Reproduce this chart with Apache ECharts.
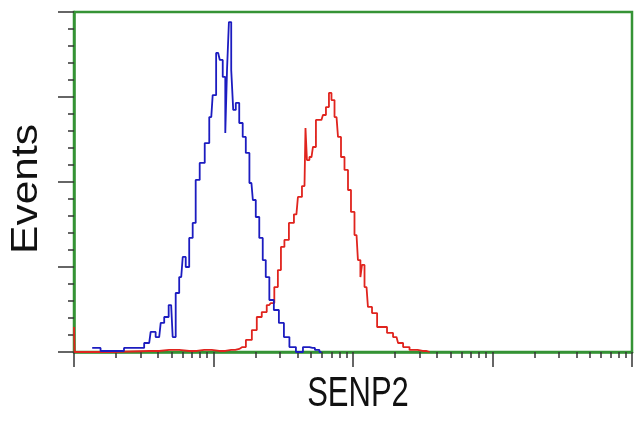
<!DOCTYPE html>
<html>
<head>
<meta charset="utf-8">
<script src="https://cdn.jsdelivr.net/npm/echarts@6/dist/echarts.min.js"></script>
<style>
html,body{margin:0;padding:0;background:#fff;}
#chart{width:637px;height:422px;}
</style>
</head>
<body>
<div id="chart"></div>
<script>
// Blue histogram (control): intensity (log scale) and event counts
const blueX = [1.35, 1.78, 2.10, 2.48, 2.93, 3.46, 3.63, 4.08, 4.29, 4.58, 4.97, 5.23, 5.49, 5.87, 6.17, 6.48, 6.92, 7.27, 7.64, 8.30, 9.02, 9.64, 10.1, 10.8, 11.4, 11.9, 12.4, 12.6, 13.2, 13.6, 14.1, 14.8, 15.8, 16.6, 17.5, 18.7, 19.6, 20.6, 22.0, 23.1, 24.3, 26.0, 28.2, 30.7, 33.3, 36.8, 41.3, 46.4, 51.2, 55.6, 59.4];
const blueY = [2.4, 0.6, 0.6, 2.4, 2.4, 5.3, 11.8, 8.8, 17.1, 20.6, 27.6, 8.8, 34.7, 44.1, 55.9, 50.0, 67.1, 75.9, 101.2, 111.2, 122.9, 138.2, 151.1, 175.9, 171.8, 161.8, 128.8, 165.9, 194.1, 165.9, 142.4, 146.5, 134.7, 126.5, 117.1, 99.4, 89.4, 79.4, 67.1, 54.1, 44.1, 30.6, 24.7, 17.1, 8.8, 2.9, 0, 2.9, 2.4, 1.2, 0];
// Red histogram (SENP2 stained)
const redX = [1.0, 1.02, 3.46, 4.81, 6.70, 8.58, 11.0, 13.4, 15.3, 16.1, 18.1, 19.6, 21.3, 23.1, 25.1, 26.4, 28.2, 29.7, 31.2, 33.3, 36.2, 39.3, 41.3, 44.9, 46.4, 47.1, 50.4, 52.9, 55.6, 59.4, 62.4, 65.6, 68.9, 71.3, 76.2, 80.0, 84.1, 89.8, 94.4, 99.1, 106, 111, 115, 117, 125, 131, 143, 155, 168, 183, 205, 216, 242, 267, 316, 354];
const redY = [14.7, 0, 0.6, 1.2, 0.6, 1.2, 0.6, 1.2, 1.8, 2.9, 7.1, 12.9, 20.6, 23.5, 27.6, 28.8, 38.2, 48.2, 61.8, 65.9, 75.9, 81.0, 91.2, 97.6, 131.8, 112.9, 114.7, 120.6, 136.5, 136.5, 139.4, 144.1, 152.4, 148.2, 138.2, 126.5, 114.7, 107.1, 95.3, 82.4, 68.8, 54.1, 44.1, 51.2, 38.2, 26.5, 22.9, 14.7, 14.7, 11.2, 8.8, 5.3, 2.9, 1.2, 0.6, 0];
const xTitle = 'SENP2';
const yTitle = 'Events';

const pair = (xs, ys) => xs.map((x, i) => [x, ys[i]]);
const green = '#359335';
const tickColor = '#353535';

const chart = echarts.init(document.getElementById('chart'), null, {renderer: 'canvas'});
chart.setOption({
  backgroundColor: '#ffffff',
  animation: false,
  grid: {left: 74, right: 5, top: 12, bottom: 70, show: true, borderColor: green, borderWidth: 2.5, backgroundColor: 'transparent'},
  xAxis: {
    type: 'log', logBase: 10, min: 1, max: 10000,
    axisLine: {show: true, lineStyle: {color: green, width: 2.5}},
    axisTick: {show: true, inside: false, length: 15, lineStyle: {color: tickColor, width: 1.5}},
    minorTick: {show: true, splitNumber: 9, length: 6, lineStyle: {color: tickColor, width: 1.5}},
    axisLabel: {show: false},
    splitLine: {show: false}
  },
  yAxis: {
    type: 'value', min: 0, max: 200, interval: 50,
    axisLine: {show: true, lineStyle: {color: green, width: 2.5}},
    axisTick: {show: true, inside: false, length: 16, lineStyle: {color: tickColor, width: 1.5}},
    minorTick: {show: true, splitNumber: 5, length: 6, lineStyle: {color: tickColor, width: 1.5}},
    axisLabel: {show: false},
    splitLine: {show: false}
  },
  graphic: [
    {type: 'text', x: 358, y: 394, scaleY: 1.4, style: {text: xTitle, font: '31px "Liberation Sans", Arial, sans-serif', fill: '#111', align: 'center', verticalAlign: 'middle'}},
    {type: 'text', x: 27, y: 189, rotation: Math.PI / 2, scaleX: 1.18, style: {text: yTitle, font: '36px "Liberation Sans", Arial, sans-serif', fill: '#111', align: 'center', verticalAlign: 'middle'}}
  ],
  series: [
    {type: 'line', data: pair(redX, redY), step: 'middle', showSymbol: false, symbol: 'none', lineStyle: {color: '#e0241e', width: 1.8}, z: 3},
    {type: 'line', data: pair(blueX, blueY), step: 'middle', showSymbol: false, symbol: 'none', lineStyle: {color: '#1c1cc0', width: 1.8}, z: 4}
  ]
});
</script>
</body>
</html>
